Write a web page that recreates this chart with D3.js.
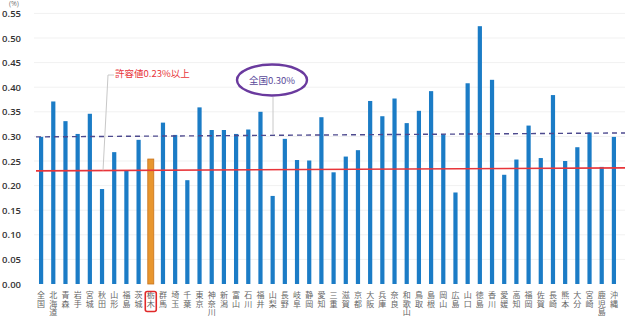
<!DOCTYPE html>
<html>
<head>
<meta charset="utf-8">
<script src="https://cdn.jsdelivr.net/npm/d3@7"></script>
<style>
  body { margin: 0; background: #fff; }
  svg { display: block; }
</style>
</head>
<body>
<div id="chart"></div>
<script>
// prefectures (全国 first), value in %
const prefectures = ["全国","北海道","青森","岩手","宮城","秋田","山形","福島","茨城","栃木",
  "群馬","埼玉","千葉","東京","神奈川","新潟","富山","石川","福井","山梨",
  "長野","岐阜","静岡","愛知","三重","滋賀","京都","大阪","兵庫","奈良",
  "和歌山","鳥取","島根","岡山","広島","山口","徳島","香川","愛媛","高知",
  "福岡","佐賀","長崎","熊本","大分","宮崎","鹿児島","沖縄"];
const values = [0.299,0.371,0.331,0.305,0.346,0.193,0.268,0.230,0.293,0.254,
  0.328,0.303,0.211,0.359,0.313,0.313,0.305,0.314,0.350,0.179,
  0.295,0.252,0.251,0.339,0.227,0.259,0.272,0.372,0.341,0.377,
  0.327,0.352,0.392,0.304,0.186,0.408,0.524,0.415,0.222,0.253,
  0.322,0.256,0.384,0.250,0.278,0.308,0.238,0.299];
const yTicks = [0,0.05,0.10,0.15,0.20,0.25,0.30,0.35,0.40,0.45,0.50,0.55];
const highlight = "栃木";
const limitLine = [0.230, 0.236];   // 許容値 (drawn slightly tilted like the photo)
const nationLine = [0.299, 0.307];  // 全国平均

const width = 625, height = 318;
const svg = d3.select("#chart").append("svg")
  .attr("width", width).attr("height", height);

const x = d3.scaleBand().domain(prefectures).range([35, 620]).padding(0);
const y = d3.scaleLinear().domain([0, 0.55]).range([284, 13.4]);
const cx = d => x(d) + x.bandwidth() / 2;

// faint grid
svg.append("g").selectAll("line").data(yTicks.slice(1)).join("line")
  .attr("x1", 34).attr("x2", 625)
  .attr("y1", d => y(d)).attr("y2", d => y(d))
  .attr("stroke", "#f1f1f1");

// y axis
const yAxis = svg.append("g")
  .attr("transform", "translate(24,0)")
  .call(d3.axisLeft(y).tickValues(yTicks).tickFormat(d3.format(".2f")).tickSize(0));
yAxis.select(".domain").remove();
yAxis.selectAll("text")
  .attr("font-family", "Open Sans, sans-serif")
  .attr("font-size", 9.5).attr("font-weight", 600).attr("fill", "#333");

svg.append("text").attr("x", 9).attr("y", 6)
  .attr("font-family", "Open Sans, sans-serif").attr("font-size", 7)
  .attr("fill", "#777").text("(%)");

// bars
svg.append("g").selectAll("rect").data(prefectures).join("rect")
  .attr("x", d => cx(d) - (d === highlight ? 3 : 2.1))
  .attr("width", d => d === highlight ? 6 : 4.2)
  .attr("y", (d, i) => y(values[i]))
  .attr("height", (d, i) => y(0) - y(values[i]))
  .attr("fill", d => d === highlight ? "#e8962e" : "#1b7cc6")
  .attr("stroke", d => d === highlight ? "#c9731c" : "none")
  .attr("stroke-width", 0.8);

// reference lines
svg.append("line")
  .attr("x1", 36).attr("x2", 625)
  .attr("y1", y(nationLine[0])).attr("y2", y(nationLine[1]))
  .attr("stroke", "#4d4a8e").attr("stroke-width", 1.4)
  .attr("stroke-dasharray", "5,4");
svg.append("line")
  .attr("x1", 36).attr("x2", 625)
  .attr("y1", y(limitLine[0])).attr("y2", y(limitLine[1]))
  .attr("stroke", "#e8353a").attr("stroke-width", 1.6);

// x labels, written vertically
svg.append("g").selectAll("text").data(prefectures).join("text")
  .attr("x", d => cx(d))
  .attr("y", 291)
  .style("writing-mode", "vertical-rl")
  .style("letter-spacing", "0.6px")
  .attr("font-family", "Noto Sans CJK JP, sans-serif")
  .attr("font-size", 8).attr("fill", "#666")
  .text(d => d);

// highlight box
svg.append("rect")
  .attr("x", cx(highlight) - 5.5).attr("y", 291.5)
  .attr("width", 11).attr("height", 20).attr("rx", 2)
  .attr("fill", "none").attr("stroke", "#e02a2a").attr("stroke-width", 1.6);

// annotation: 許容値
svg.append("path")
  .attr("d", `M114,75 L108,75 L${cx("秋田") + 1},${y(0.231)}`)
  .attr("fill", "none").attr("stroke", "#c8c8c8").attr("stroke-width", 1);
svg.append("text").attr("x", 115).attr("y", 77)
  .attr("font-family", "Noto Sans CJK JP, sans-serif")
  .attr("font-size", 9.5).attr("fill", "#e8353a")
  .text("許容値0.23%以上");

// annotation: 全国
svg.append("line")
  .attr("x1", 273).attr("x2", 273).attr("y1", 97).attr("y2", y(0.304))
  .attr("stroke", "#c8c8c8").attr("stroke-width", 1);
svg.append("ellipse").attr("cx", 272).attr("cy", 80).attr("rx", 35).attr("ry", 15.5)
  .attr("fill", "#fff").attr("stroke", "#6a3a9e").attr("stroke-width", 2.4);
svg.append("text").attr("x", 272).attr("y", 83.5).attr("text-anchor", "middle")
  .attr("font-family", "Noto Sans CJK JP, sans-serif")
  .attr("font-size", 9.5).attr("fill", "#5a4a9a")
  .text("全国0.30%");
</script>
</body>
</html>
